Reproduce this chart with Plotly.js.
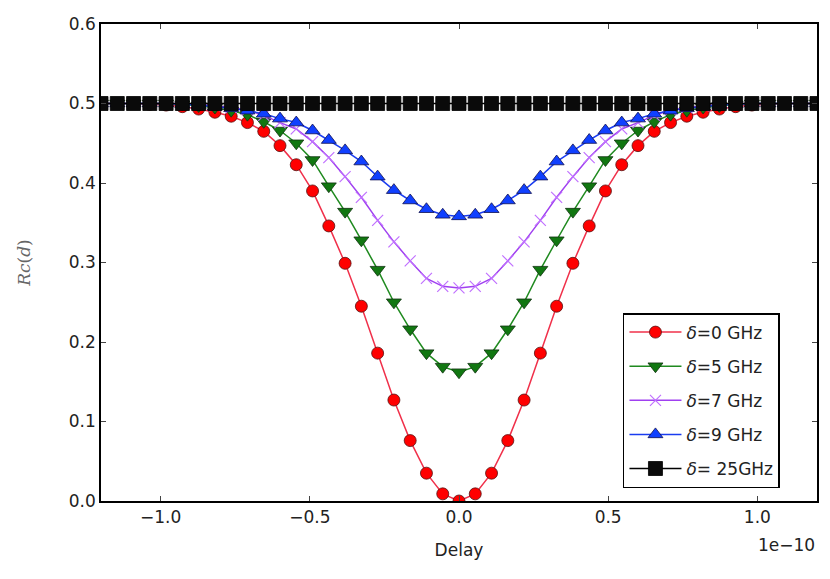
<!DOCTYPE html>
<html>
<head>
<meta charset="utf-8">
<script src="https://cdn.plot.ly/plotly-3.0.1.min.js"></script>
<style>
  html, body { margin: 0; padding: 0; background: #fff; }
  #chart { width: 830px; height: 579px; }
</style>
</head>
<body>
<div id="chart"></div>
<script>
// delay values, in units of 1e-10 s
const delay = [
  -1.2, -1.1455, -1.0909, -1.0364, -0.9818, -0.9273, -0.8727, -0.8182, -0.7636, -0.7091, -0.6545,
  -0.6, -0.5455, -0.4909, -0.4364, -0.3818, -0.3273, -0.2727, -0.2182, -0.1636, -0.1091, -0.0545,
  0,
  0.0545, 0.1091, 0.1636, 0.2182, 0.2727, 0.3273, 0.3818, 0.4364, 0.4909, 0.5455, 0.6,
  0.6545, 0.7091, 0.7636, 0.8182, 0.8727, 0.9273, 0.9818, 1.0364, 1.0909, 1.1455, 1.2
];

const rc0 = [
  0.500, 0.500, 0.500, 0.499, 0.498, 0.496, 0.493, 0.489, 0.484, 0.476, 0.465,
  0.447, 0.423, 0.390, 0.346, 0.299, 0.245, 0.186, 0.127, 0.076, 0.035, 0.009,
  0.000,
  0.009, 0.035, 0.076, 0.127, 0.186, 0.245, 0.299, 0.346, 0.390, 0.423, 0.447,
  0.465, 0.476, 0.484, 0.489, 0.493, 0.496, 0.498, 0.499, 0.500, 0.500, 0.500
];
const rc5 = [
  0.500, 0.500, 0.500, 0.500, 0.500, 0.499, 0.497, 0.495, 0.491, 0.486, 0.477,
  0.466, 0.450, 0.429, 0.396, 0.364, 0.328, 0.291, 0.250, 0.216, 0.186, 0.169,
  0.162,
  0.169, 0.186, 0.216, 0.250, 0.291, 0.328, 0.364, 0.396, 0.429, 0.450, 0.466,
  0.477, 0.486, 0.491, 0.495, 0.497, 0.499, 0.500, 0.500, 0.500, 0.500, 0.500
];
const rc7 = [
  0.500, 0.500, 0.500, 0.500, 0.500, 0.500, 0.499, 0.497, 0.495, 0.492, 0.485,
  0.476, 0.468, 0.452, 0.432, 0.408, 0.382, 0.353, 0.326, 0.302, 0.280, 0.270,
  0.268,
  0.270, 0.280, 0.302, 0.326, 0.353, 0.382, 0.408, 0.432, 0.452, 0.468, 0.476,
  0.485, 0.492, 0.495, 0.497, 0.499, 0.500, 0.500, 0.500, 0.500, 0.500, 0.500
];
const rc9 = [
  0.500, 0.500, 0.500, 0.500, 0.500, 0.499, 0.498, 0.496, 0.494, 0.491, 0.487,
  0.481, 0.476, 0.466, 0.454, 0.441, 0.427, 0.408, 0.391, 0.378, 0.367, 0.360,
  0.358,
  0.360, 0.367, 0.378, 0.391, 0.408, 0.427, 0.441, 0.454, 0.466, 0.476, 0.481,
  0.487, 0.491, 0.494, 0.496, 0.498, 0.499, 0.500, 0.500, 0.500, 0.500, 0.500
];
const rc25 = [
  0.5, 0.5, 0.5, 0.5, 0.5, 0.5, 0.5, 0.5, 0.5, 0.5, 0.5,
  0.5, 0.5, 0.5, 0.5, 0.5, 0.5, 0.5, 0.5, 0.5, 0.5, 0.5,
  0.5,
  0.5, 0.5, 0.5, 0.5, 0.5, 0.5, 0.5, 0.5, 0.5, 0.5, 0.5,
  0.5, 0.5, 0.5, 0.5, 0.5, 0.5, 0.5, 0.5, 0.5, 0.5, 0.5
];

const seriesNames = [
  "<i>δ</i>=0 GHz",
  "<i>δ</i>=5 GHz",
  "<i>δ</i>=7 GHz",
  "<i>δ</i>=9 GHz",
  "<i>δ</i>= 25GHz"
];

const xTicks = [-1.0, -0.5, 0.0, 0.5, 1.0];
const yTicks = [0.0, 0.1, 0.2, 0.3, 0.4, 0.5, 0.6];

const mkTrace = (y, i, lineColor, marker) => ({
  x: delay,
  y: y,
  name: seriesNames[i],
  legendgroup: "g" + i,
  type: "scatter",
  mode: "lines+markers",
  line: { color: lineColor, width: 1.5 },
  marker: marker,
});

const traces = [
  mkTrace(rc0, 0, "#f0304a", { symbol: "circle", size: 12, color: "#ff0000", line: { color: "#551111", width: 0.8 } }),
  mkTrace(rc5, 1, "#1f8a1f", { symbol: "triangle-down", size: 13, color: "#117711", line: { color: "#113311", width: 0.8 } }),
  mkTrace(rc7, 2, "#a040f0", { symbol: "x-thin", size: 11, color: "#c070ff", line: { color: "#c070ff", width: 1.2 } }),
  mkTrace(rc9, 3, "#1a3cf0", { symbol: "triangle-up", size: 13, color: "#1040ff", line: { color: "#101050", width: 0.8 } }),
  mkTrace(rc25, 4, "#000000", { symbol: "square", size: 14, color: "#0a0a0a", line: { color: "#000000", width: 0.8 } }),
];

const axisFont = { family: "DejaVu Sans", size: 17, color: "#222" };

const layout = {
  width: 830,
  height: 579,
  margin: { l: 101, r: 13, t: 24, b: 78, pad: 0 },
  paper_bgcolor: "#ffffff",
  plot_bgcolor: "#ffffff",
  showlegend: true,
  xaxis: {
    range: [-1.2, 1.2],
    tickvals: xTicks,
    tickformat: ".1f",
    ticks: "inside",
    ticklen: 5,
    tickcolor: "#444",
    tickfont: axisFont,
    showgrid: false,
    zeroline: false,
    showline: true,
    linecolor: "#000",
    linewidth: 1.5,
    mirror: "ticks",
    title: { text: "Delay", font: axisFont, standoff: 18 },
  },
  yaxis: {
    range: [0, 0.6],
    tickvals: yTicks,
    tickformat: ".1f",
    ticks: "inside",
    ticklen: 5,
    tickcolor: "#444",
    tickfont: axisFont,
    showgrid: false,
    zeroline: false,
    showline: true,
    linecolor: "#000",
    linewidth: 1.5,
    mirror: "ticks",
    title: {
      text: "<i>Rc</i>(<i>d</i>)",
      font: { family: "DejaVu Serif", size: 17, color: "#666" },
      standoff: 34,
    },
  },
  legend: {
    x: 0.729,
    y: 0.394,
    xanchor: "left",
    yanchor: "top",
    bgcolor: "#ffffff",
    bordercolor: "#000000",
    borderwidth: 1.5,
    tracegroupgap: 9,
    itemwidth: 52,
    font: { family: "DejaVu Sans", size: 17, color: "#222" },
  },
  annotations: [
    {
      text: "1e−10",
      xref: "paper",
      yref: "paper",
      x: 1,
      y: -0.092,
      xanchor: "right",
      yanchor: "middle",
      showarrow: false,
      font: axisFont,
    },
  ],
};

Plotly.newPlot("chart", traces, layout, { displayModeBar: false, responsive: false });
</script>
</body>
</html>
